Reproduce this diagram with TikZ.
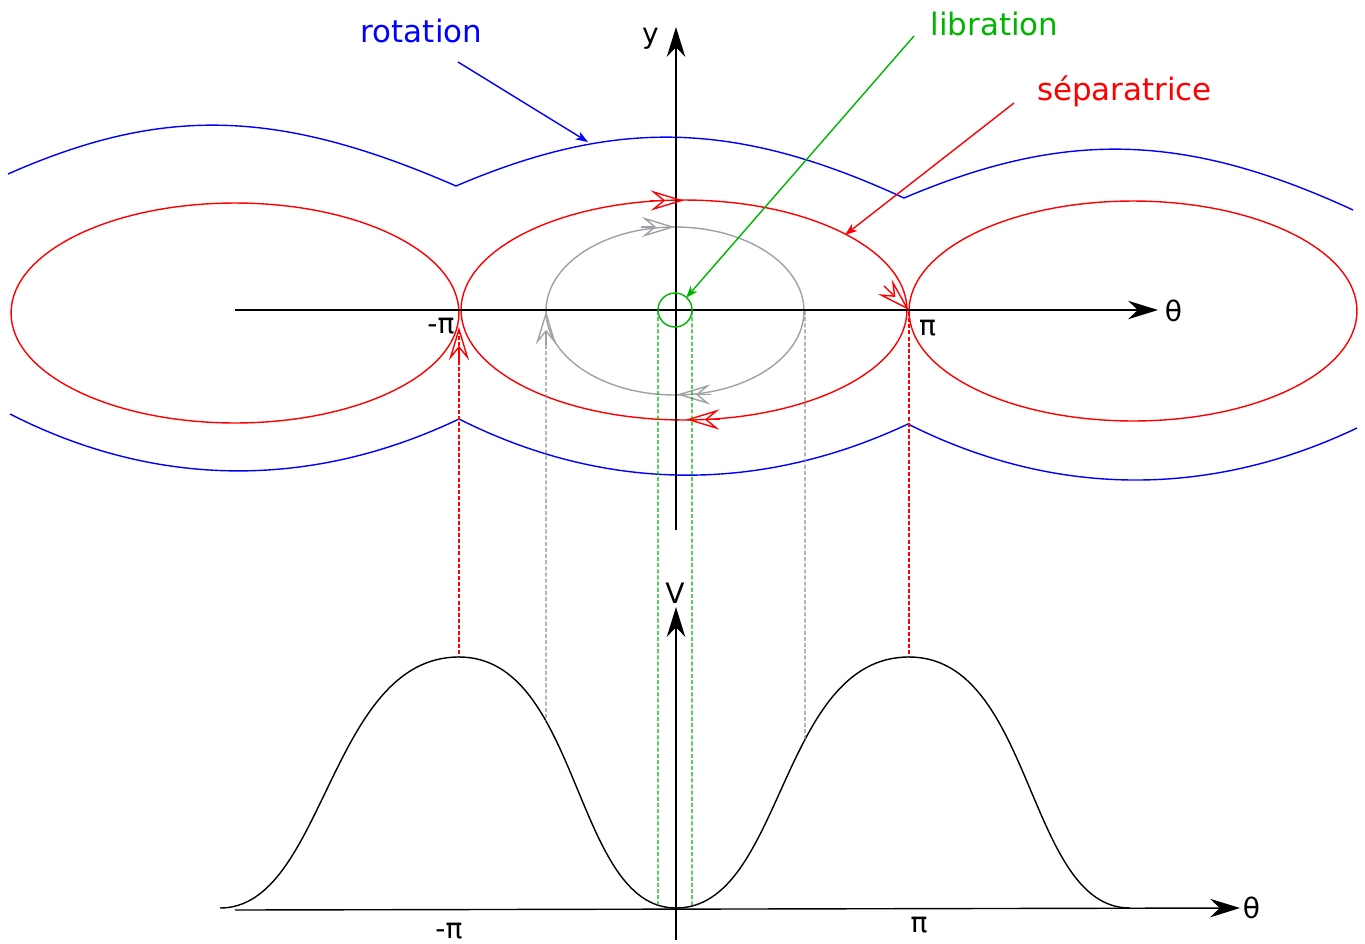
\documentclass[tikz,border=0pt]{standalone}
\usepackage{fontspec}
\setmainfont{DejaVu Sans}
\usetikzlibrary{arrows.meta,intersections}
\definecolor{grn}{RGB}{0,180,0}
\definecolor{gry}{RGB}{160,161,166}
\definecolor{gryd}{RGB}{140,140,148}
\definecolor{redd}{RGB}{255,0,0}
\tikzset{
  axarr/.style={-{Stealth[length=17pt,width=10.5pt,inset=5.5pt]}},
  ptrarr/.style={-{Stealth[length=7pt,width=5pt,inset=2pt]}},
  oarr/.style={-{Stealth[open,length=19pt,width=11.5pt,inset=7pt]}},
  dsh/.style={line width=0.6pt,dash pattern=on 2.3pt off 1.2pt},
  lbl/.style={inner sep=0pt,anchor=base,font=\fontsize{17.6}{20}\selectfont},
  axl/.style={inner sep=0pt,anchor=base,font=\fontsize{16}{19}\selectfont},
}
\begin{document}
\begin{tikzpicture}[x=0.02cm,y=-0.02cm,line width=0.8pt]
\useasboundingbox (0,0) rectangle (1365,943);

% ---- blue rotation curves ----
\draw[blue] (8,174) .. controls (160,107) and (275,107) .. (456,186)
   .. controls (613,119) and (733,119) .. (904,198)
   .. controls (1062,131) and (1182,131) .. (1353,210);
\draw[blue] (10,414) .. controls (157,489) and (312,489) .. (459,419)
   .. controls (606,493) and (761,493) .. (908,424)
   .. controls (1055,498) and (1210,498) .. (1357,428);

% ---- red separatrix ellipses ----
\draw[red] (235,313) ellipse [x radius=4.48cm,y radius=2.2cm];
\draw[red] (684,310) ellipse [x radius=4.46cm,y radius=2.2cm];
\draw[red] (1133,311) ellipse [x radius=4.48cm,y radius=2.2cm];

% ---- grey libration ellipse ----
\draw[gry] (675,311) ellipse [x radius=2.58cm,y radius=1.68cm];

% ---- axes (phase plane) ----
\coordinate (thS) at (235,310); \coordinate (thE) at (1158,310);
\coordinate (yS) at (676,530); \coordinate (yE) at (676,27);
\draw[axarr] (thS) -- (thE);
\draw[axarr] (yS) -- (yE);

% green small circle
\draw[grn] (675,310) circle [radius=0.34cm];

% ---- dashed projections ----
\draw[redd,dsh] (459,330) -- (459,657);
\draw[redd,dsh] (909,312) -- (909,657);

% ---- open arrows on ellipses ----
\draw[red,oarr] (650,200.5) -- (684,200.5);
\draw[red,oarr] (720,419.5) -- (686,419.5);
\draw[red,oarr] (884,286) -- (909,310);
\draw[red,oarr] (459,361) -- (459,327);
\draw[gry,oarr] (641,227) -- (675,227);
\draw[gry,oarr] (711,394.5) -- (677,394.5);
\draw[gry,oarr] (546,345) -- (546,311);

% ---- potential curve ----
\draw[name path=vcurve] (220,908) .. controls (325,908) and (329,657) .. (459,657)
   .. controls (581,657) and (573,908) .. (676,908)
   .. controls (784,908) and (779,657) .. (909,657)
   .. controls (1034,657) and (1026,908) .. (1130,908);
\coordinate (vS) at (676,940); \coordinate (vE) at (676,607);
\coordinate (t2S) at (235,910); \coordinate (t2E) at (1240,908);
\draw[axarr] (vS) -- (vE);
\draw[axarr] (t2S) -- (t2E);

\path[name path=gA] (546,311) -- (546,940);
\path[name path=gB] (805,311) -- (805,940);
\path[name path=nA] (658,311) -- (658,940);
\path[name path=nB] (692,311) -- (692,940);
\draw[gryd,dsh,name intersections={of=gA and vcurve,name=ia}] (546,345) -- (ia-1);
\draw[gryd,dsh,name intersections={of=gB and vcurve,name=ib}] (805,311) -- (ib-1);
\draw[grn,dsh,name intersections={of=nA and vcurve,name=ic}] (658,311) -- (ic-1);
\draw[grn,dsh,name intersections={of=nB and vcurve,name=id}] (692,311) -- (id-1);

% ---- pointer arrows ----
\coordinate (rotS) at (458,62);   \coordinate (rotE) at (588,142);
\coordinate (libS) at (914,36);   \coordinate (libE) at (686,298);
\coordinate (sepS) at (1014,103); \coordinate (sepE) at (845,235);
\draw[blue,ptrarr] (rotS) -- (rotE);
\draw[grn,ptrarr] (libS) -- (libE);
\draw[red,ptrarr] (sepS) -- (sepE);

% ---- labels ----
\node[lbl,text=blue] (rot) at (421.5,42.5) {rotation};
\node[lbl,text=grn] (lib) at (994.5,35) {libration};
\node[lbl,text=red] (sep) at (1124.5,100) {séparatrice};
\node[axl] (ylab) at (650.5,43.5) {y};
\node[axl] (th1) at (1173.5,321) {θ};
\node[axl] (mpi1) at (441,333) {-π};
\node[axl] (pi1) at (927.5,335) {π};
\node[axl] (vlab) at (675,603) {V};
\node[axl] (th2) at (1251.5,918) {θ};
\node[axl] (mpi2) at (449,938) {-π};
\node[axl] (pi2) at (919,932) {π};
\end{tikzpicture}
\end{document}
